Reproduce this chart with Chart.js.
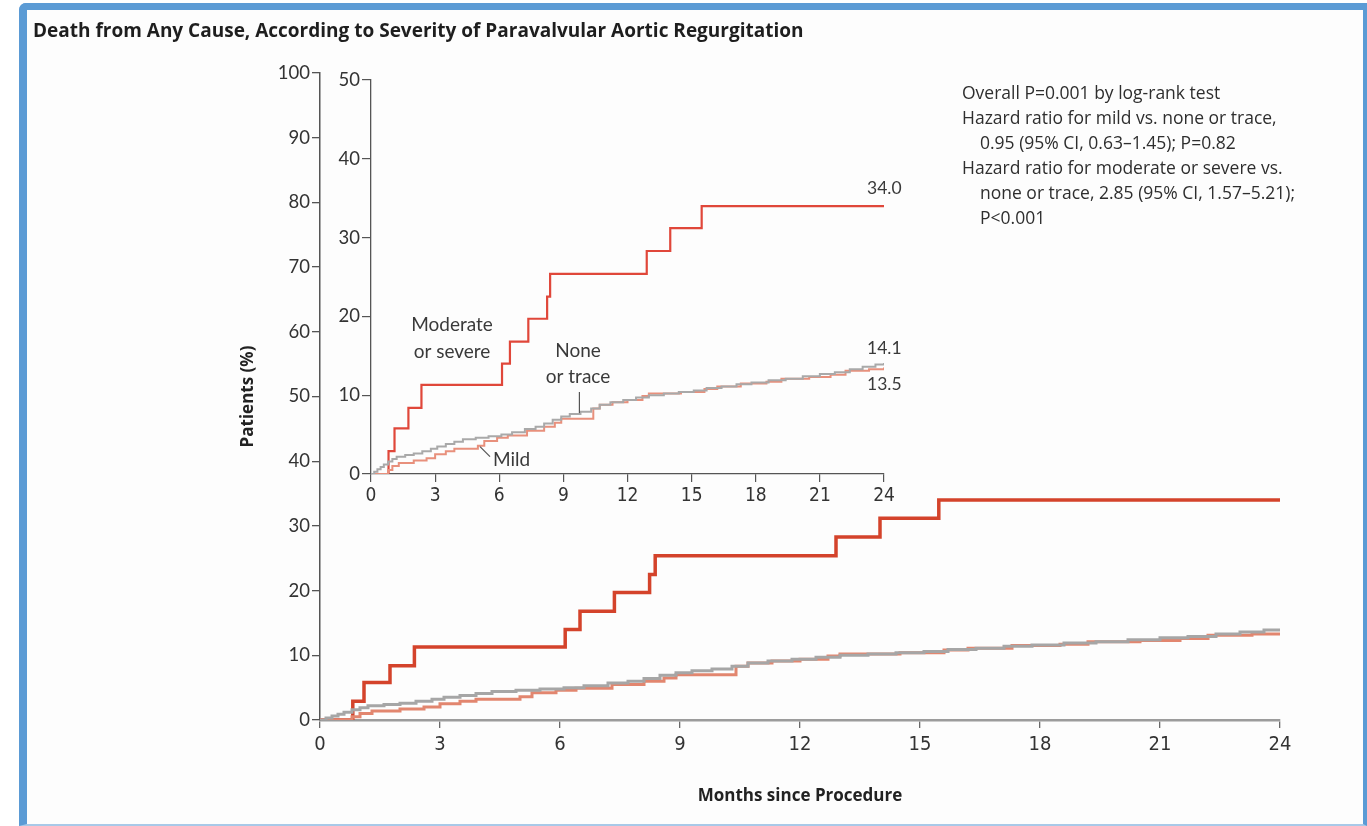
<!DOCTYPE html>
<html>
<head>
<meta charset="utf-8">
<script src="https://cdn.jsdelivr.net/npm/chart.js@4.4.1/dist/chart.umd.min.js"></script>
<style>
  html, body { margin: 0; padding: 0; background: #ffffff; }
  #wrap { position: relative; width: 1367px; height: 826px; overflow: hidden; background: #ffffff; }
  #frame {
    position: absolute; left: 19px; top: 3px; width: 1336px; height: 814px;
    border-left: 8px solid #5b9bd5; border-top: 7px solid #5b9bd5;
    border-right: 4px solid #5b9bd5; border-bottom: 2px solid #a8c9e8;
    border-radius: 7px 0 0 0; background: #fdfdfd;
  }
  canvas { position: absolute; left: 0; top: 0; }
  .txt { position: absolute; white-space: nowrap; color: #2e2e2e; }
  #title { left: 33px; top: 19px; font: bold 19px "Open Sans", sans-serif; line-height: 22px; color: #1e1e1e; }
  .note { font: 17.5px "Open Sans", sans-serif; line-height: 20px; }
</style>
</head>
<body>
<div id="wrap">
  <div id="frame"></div>
  <canvas id="main" width="1367" height="826"></canvas>
  <canvas id="inset" width="1367" height="826"></canvas>
  <div id="title" class="txt">Death from Any Cause, According to Severity of Paravalvular Aortic Regurgitation</div>
  <div class="txt note" style="left:962px; top:82px;">Overall P=0.001 by log-rank test</div>
  <div class="txt note" style="left:962px; top:107px;">Hazard ratio for mild vs. none or trace,</div>
  <div class="txt note" style="left:980px; top:132px;">0.95 (95% CI, 0.63&#8211;1.45); P=0.82</div>
  <div class="txt note" style="left:962px; top:157px;">Hazard ratio for moderate or severe vs.</div>
  <div class="txt note" style="left:980px; top:182px;">none or trace, 2.85 (95% CI, 1.57&#8211;5.21);</div>
  <div class="txt note" style="left:980px; top:207px;">P&lt;0.001</div>
</div>
<script>
// Kaplan–Meier cumulative death from any cause (%), by months since procedure
const monthTicks = [0, 3, 6, 9, 12, 15, 18, 21, 24];
const mainPctTicks = [0, 10, 20, 30, 40, 50, 60, 70, 80, 90, 100];
const insetPctTicks = [0, 10, 20, 30, 40, 50];

// Moderate or severe paravalvular regurgitation
const modSevMonths = [0, 0.82, 1.1, 1.75, 2.36, 6.13, 6.5, 7.36, 8.24, 8.38, 12.9, 14.0, 15.47, 24];
const modSevPct    = [0, 2.9, 5.8, 8.4, 11.3, 14.0, 16.8, 19.7, 22.5, 25.4, 28.3, 31.2, 34.0, 34.0];

// None or trace
const noneMonths = [0, 0.15, 0.3, 0.45, 0.6, 0.8, 1.0, 1.2, 1.6, 2.0, 2.4, 2.8, 3.1, 3.5, 3.9, 4.3, 4.9,
  5.5, 6.1, 6.6, 7.2, 7.7, 8.1, 8.5, 8.9, 9.3, 9.8, 10.3, 10.7, 11.2, 11.8, 12.4, 13.0, 13.7, 14.4,
  15.1, 15.7, 16.4, 17.1, 17.8, 18.6, 19.4, 20.2, 21.0, 21.7, 22.4, 23.0, 23.6, 24.0];
const nonePct = [0, 0.3, 0.6, 0.9, 1.2, 1.6, 1.9, 2.2, 2.4, 2.6, 2.9, 3.2, 3.5, 3.8, 4.1, 4.4, 4.6,
  4.8, 5.0, 5.3, 5.7, 6.0, 6.4, 6.9, 7.3, 7.6, 7.9, 8.3, 8.8, 9.1, 9.4, 9.7, 10.0, 10.2, 10.4,
  10.6, 10.9, 11.1, 11.4, 11.6, 11.9, 12.1, 12.4, 12.7, 12.9, 13.3, 13.6, 13.9, 14.1];

// Mild
const mildMonths = [0, 0.8, 1.0, 1.3, 2.0, 2.6, 3.0, 3.5, 3.9, 5.0, 5.3, 5.9, 6.4, 7.3, 8.1, 8.6, 8.9,
  10.4, 10.7, 11.3, 12.0, 12.7, 13.0, 14.5, 15.6, 16.2, 17.3, 18.5, 19.2, 20.5, 21.5, 22.2, 23.3, 24.0];
const mildPct = [0, 0.5, 1.0, 1.4, 1.7, 2.0, 2.5, 2.9, 3.2, 3.6, 4.2, 4.6, 4.9, 5.5, 6.0, 6.5, 7.0,
  8.3, 8.8, 9.1, 9.4, 9.9, 10.2, 10.4, 10.8, 11.1, 11.5, 11.7, 12.1, 12.3, 12.6, 13.1, 13.3, 13.5];

const FONT = 'Lato, "Open Sans", sans-serif';
const NARROW = '"Liberation Sans Narrow", "DejaVu Sans Condensed", Lato, sans-serif';
const BOLD = '"Open Sans", Lato, sans-serif';

function points(months, pct) {
  return months.map((m, i) => ({ x: m, y: pct[i] }));
}
function series(months, pct, color, width) {
  return {
    data: points(months, pct), borderColor: color, borderWidth: width,
    stepped: 'before', pointRadius: 0, fill: false, tension: 0, borderCapStyle: 'butt'
  };
}
function stepValueAt(months, pct, m) {
  let v = pct[0];
  for (let i = 0; i < months.length; i++) { if (months[i] <= m) v = pct[i]; }
  return v;
}
function fixedTicks(list) {
  return scale => { scale.ticks = list.map(v => ({ value: v })); };
}

const base = {
  type: 'line',
  options: {
    responsive: false, animation: false, devicePixelRatio: 1,
    events: [],
    plugins: { legend: { display: false }, tooltip: { enabled: false }, title: { display: false } }
  }
};

// Full 0–100% plot
new Chart(document.getElementById('main'), {
  ...base,
  data: { datasets: [
    series(noneMonths, nonePct, '#a6a6a6', 3),
    series(mildMonths, mildPct, '#e2866f', 3),
    series(modSevMonths, modSevPct, '#d4432b', 3.5)
  ] },
  options: {
    ...base.options,
    layout: { padding: { left: 228, right: 87, top: 73, bottom: 0 } },
    scales: {
      x: {
        type: 'linear', min: 0, max: 24,
        afterBuildTicks: fixedTicks(monthTicks),
        afterFit: s => { s.height = 106; },
        grid: { drawOnChartArea: false, drawTicks: true, tickLength: 8, color: '#6a6a6a', lineWidth: 1.3 },
        border: { display: true, color: '#9c9c9c', width: 2.5 },
        ticks: { font: { family: NARROW, size: 20 }, color: '#333', padding: 5, maxRotation: 0, autoSkip: false },
        title: { display: true, text: 'Months since Procedure', color: '#222',
                 font: { family: BOLD, size: 17, weight: 'bold' }, padding: { top: 0, bottom: 20 } }
      },
      y: {
        type: 'linear', min: 0, max: 100,
        afterBuildTicks: fixedTicks(mainPctTicks),
        afterFit: s => { s.width = 92; },
        grid: { drawOnChartArea: false, drawTicks: true, tickLength: 8, color: '#555', lineWidth: 1.3 },
        border: { display: true, color: '#555', width: 1.5 },
        ticks: { font: { family: FONT, size: 18.5 }, color: '#333', padding: 2 },
        title: { display: true, text: 'Patients (%)', color: '#222',
                 font: { family: BOLD, size: 17, weight: 'bold' }, padding: { top: 10, bottom: 0 } }
      }
    }
  }
});

// Curve names, pointers and 24-month values in the 0–50% inset
const insetLabels = {
  id: 'insetLabels',
  afterDatasetsDraw(chart) {
    const { ctx } = chart;
    const x = chart.scales.x, y = chart.scales.y;
    ctx.save();
    ctx.fillStyle = '#3a3a3a';
    ctx.strokeStyle = '#555';
    ctx.lineWidth = 1.2;
    ctx.font = '19px ' + FONT;
    ctx.textBaseline = 'alphabetic';
    ctx.textAlign = 'center';
    ctx.fillText('Moderate', 452, 331);
    ctx.fillText('or severe', 452, 358);
    ctx.fillText('None', 578, 357);
    ctx.fillText('or trace', 578, 383);
    ctx.textAlign = 'left';
    ctx.fillText('Mild', 493, 466);

    // pointer from "None or trace" down to its curve
    const mN = 9.75;
    const pxN = x.getPixelForValue(mN), pyN = y.getPixelForValue(stepValueAt(noneMonths, nonePct, mN));
    ctx.beginPath(); ctx.moveTo(pxN, 392); ctx.lineTo(pxN, pyN - 1); ctx.stroke();
    // pointer from "Mild" up to its curve
    const mM = 5.1;
    const pxM = x.getPixelForValue(mM), pyM = y.getPixelForValue(stepValueAt(mildMonths, mildPct, mM));
    ctx.beginPath(); ctx.moveTo(pxM, pyM + 1); ctx.lineTo(pxM + 10, pyM + 11); ctx.stroke();

    // 24-month estimates
    ctx.font = '17.5px ' + FONT;
    ctx.textAlign = 'left';
    const endX = x.getPixelForValue(24) - 17;
    const vMod = modSevPct[modSevPct.length - 1];
    const vNone = nonePct[nonePct.length - 1];
    const vMild = mildPct[mildPct.length - 1];
    ctx.fillText(vMod.toFixed(1), endX, y.getPixelForValue(vMod) - 12);
    ctx.fillText(vNone.toFixed(1), endX, y.getPixelForValue(vNone) - 9);
    ctx.fillText(vMild.toFixed(1), endX, y.getPixelForValue(vMild) + 22);
    ctx.restore();
  }
};

// Zoomed 0–50% inset
new Chart(document.getElementById('inset'), {
  ...base,
  data: { datasets: [
    series(noneMonths, nonePct, '#a9a9a9', 2),
    series(mildMonths, mildPct, '#e8907c', 2),
    series(modSevMonths, modSevPct, '#e0473a', 2.2)
  ] },
  plugins: [insetLabels],
  options: {
    ...base.options,
    layout: { padding: { left: 290, right: 483, top: 80, bottom: 0 } },
    scales: {
      x: {
        type: 'linear', min: 0, max: 24,
        afterBuildTicks: fixedTicks(monthTicks),
        afterFit: s => { s.height = 352; },
        grid: { drawOnChartArea: false, drawTicks: true, tickLength: 8, color: '#555', lineWidth: 1.2 },
        border: { display: true, color: '#555', width: 1.3 },
        ticks: { font: { family: NARROW, size: 19 }, color: '#333', padding: 3, maxRotation: 0, autoSkip: false }
      },
      y: {
        type: 'linear', min: 0, max: 50,
        afterBuildTicks: fixedTicks(insetPctTicks),
        afterFit: s => { s.width = 81; },
        grid: { drawOnChartArea: false, drawTicks: true, tickLength: 9, color: '#555', lineWidth: 1.2 },
        border: { display: true, color: '#555', width: 1.3 },
        ticks: { font: { family: FONT, size: 18.5 }, color: '#333', padding: 2 }
      }
    }
  }
});
</script>
</body>
</html>
